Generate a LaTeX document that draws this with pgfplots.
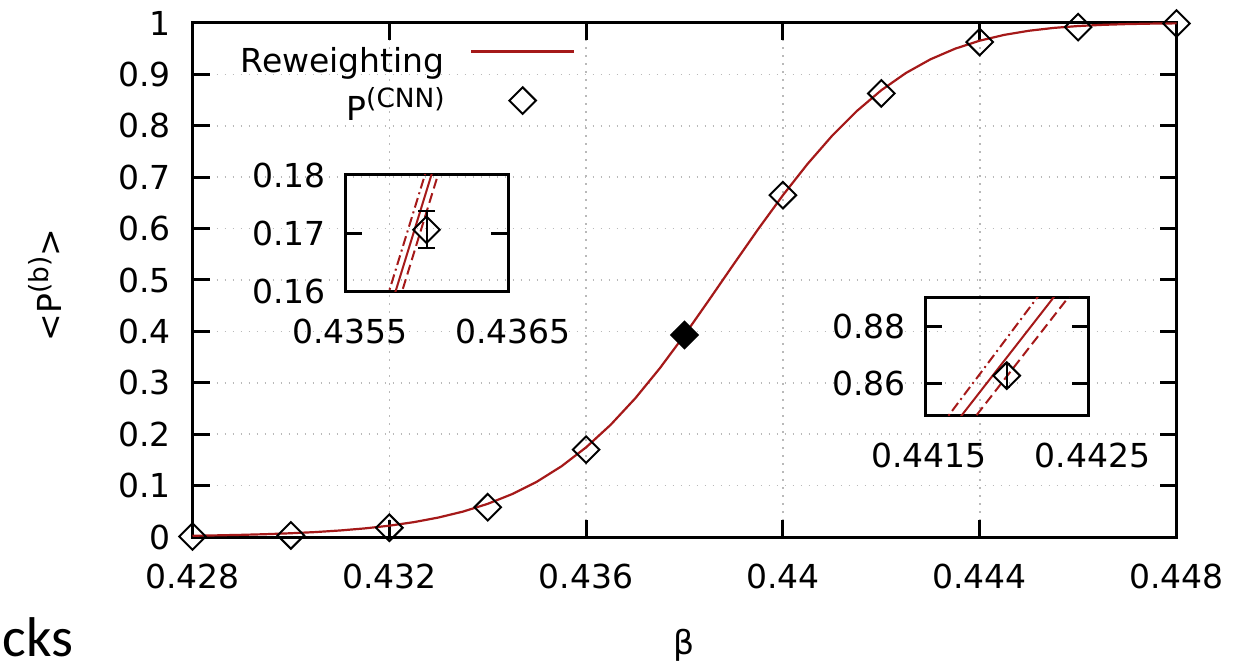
\documentclass[border=0pt]{standalone}
\usepackage{fontspec}
\setmainfont{DejaVu Sans}
\newfontfamily\slidefont{Carlito}
\usepackage{pgfplots}
\pgfplotsset{compat=1.18}
\definecolor{DarkRed}{RGB}{165,25,25}
\newcommand\chartfont{\fontsize{16.5bp}{19.8bp}\selectfont}
\newcommand\sups[1]{\raisebox{0.42em}{\fontsize{13.2bp}{15bp}\selectfont #1}}

\pgfplotsset{
  gp/.style={
    scale only axis,
    axis line style={line width=1.5bp},
    tick style={line width=1.5bp, black},
    major tick length=8.5bp,
    tick align=inside,
    font=\chartfont,
    tick label style={font=\chartfont},
    /pgf/number format/assume math mode=true,
    /pgf/number format/precision=4,
    scaled ticks=false,
    xticklabel style={yshift=-10bp},
    yticklabel style={xshift=-7.4bp},
  },
  band/.style={DarkRed, line width=1bp},
  linelegend/.style={legend image code/.code={\draw[##1, line width=1.4bp] (0bp,5.85bp) -- (51.5bp,5.85bp);}},
  marklegend/.style={legend image code/.code={\draw[mark repeat=2,mark phase=2,##1]
    plot coordinates {(0bp,5.65bp)(25.75bp,5.65bp)(51.5bp,5.65bp)};}},
}

\begin{document}
\begin{tikzpicture}
\useasboundingbox (0,0) rectangle (628bp,330.5bp);

% main plot
\begin{axis}[gp,
  at={(96.25bp,62bp)}, anchor=south west,
  width=492bp, height=257bp,
  xmin=0.428, xmax=0.448, ymin=0, ymax=1,
  xtick={0.428,0.432,0.436,0.44,0.444,0.448},
  ytick={0,0.1,0.2,0.3,0.4,0.5,0.6,0.7,0.8,0.9,1},
  grid=major,
  grid style={line width=0.8bp, gray!55, dash pattern=on 0.8bp off 3.2bp},
  clip=false,
  xlabel={β}, ylabel={<P\sups{(b)}>},
  xlabel style={at={(axis description cs:0.5,-0.21)}, anchor=center},
  ylabel style={at={(axis description cs:-0.15,0.49)}, anchor=center},
  legend style={draw=none, fill=none, inner sep=0pt,
    at={(axis description cs:0.3897,0.9558)}, anchor=north east,
    column sep=12.5bp, row sep=3.6bp,
    nodes={inner sep=0pt, text height=13bp, text depth=4bp}},
  legend cell align=right,
  legend plot pos=right,
]
\addplot[DarkRed, line width=1.1bp, linelegend]
  coordinates {
  (0.4280,0.0024)(0.4285,0.0032)(0.4290,0.0042)(0.4295,0.0055)(0.4300,0.0073)
  (0.4305,0.0096)(0.4310,0.0127)(0.4315,0.0167)(0.4320,0.0220)(0.4325,0.0289)
  (0.4330,0.0379)(0.4335,0.0495)(0.4340,0.0645)(0.4345,0.0836)(0.4350,0.1076)
  (0.4355,0.1376)(0.4360,0.1744)(0.4365,0.2184)(0.4370,0.2699)(0.4375,0.3285)
  (0.4380,0.3929)(0.4385,0.4613)(0.4390,0.5308)(0.4395,0.5993)(0.4400,0.6649)
  (0.4405,0.7257)(0.4410,0.7806)(0.4415,0.8285)(0.4420,0.8692)(0.4425,0.9027)
  (0.4430,0.9294)(0.4435,0.9500)(0.4440,0.9656)(0.4445,0.9769)(0.4450,0.9849)
  (0.4455,0.9904)(0.4460,0.9941)(0.4465,0.9964)(0.4470,0.9979)(0.4475,0.9988)
  (0.4480,0.9993)
};
\addlegendentry{Reweighting}
\addplot[only marks, black, mark=square, mark size=4.7bp,
  mark options={rotate=45, line width=1bp}, marklegend]
  coordinates {
  (0.428,0.001)(0.430,0.003)(0.432,0.018)(0.434,0.058)(0.436,0.170)
  (0.440,0.665)(0.442,0.863)(0.444,0.963)(0.446,0.992)(0.448,0.999)
};
\addlegendentry{P\sups{(CNN)}}
\addplot[only marks, black, mark=square*, mark size=4.7bp,
  mark options={rotate=45, line width=1bp, fill=black}, forget plot]
  coordinates {(0.438,0.393)};
\end{axis}

% inset near beta = 0.436
\begin{axis}[gp,
  at={(172.5bp,184.75bp)}, anchor=south west,
  width=81.5bp, height=58.25bp,
  xmin=0.4355, xmax=0.4365, ymin=0.16, ymax=0.18,
  xtick={0.4355,0.4365}, ytick={0.16,0.17,0.18},
  yticklabel style={xshift=1.4bp},
  xticklabel style={xshift=2.5bp},
]
\addplot[band, dash pattern=on 5bp off 2bp on 1bp off 2bp]
  coordinates {(0.435748,0.158)(0.436012,0.182)};
\addplot[band] coordinates {(0.435788,0.158)(0.436052,0.182)};
\addplot[band, dash pattern=on 5bp off 2.5bp]
  coordinates {(0.435828,0.158)(0.436092,0.182)};
\addplot[only marks, black, mark=square, mark size=4.7bp,
  mark options={rotate=45, line width=1bp},
  error bars/.cd, y dir=both, y explicit,
  error bar style={line width=1bp},
  error mark options={rotate=90, mark size=4.2bp, line width=1bp}]
  coordinates {(0.43600,0.1706) +- (0,0.0032)};
\end{axis}

% inset near beta = 0.442
\begin{axis}[gp,
  at={(462.5bp,122.75bp)}, anchor=south west,
  width=81.75bp, height=58.75bp,
  xmin=0.4415, xmax=0.4425, ymin=0.849, ymax=0.890,
  xtick={0.4415,0.4425}, ytick={0.86,0.88},
  yticklabel style={xshift=1.4bp},
  xticklabel style={xshift=2bp},
]
\addplot[band, dash pattern=on 5bp off 2bp on 1bp off 2bp]
  coordinates {(0.441592,0.845)(0.442250,0.895)};
\addplot[band] coordinates {(0.441669,0.845)(0.442352,0.895)};
\addplot[band, dash pattern=on 5bp off 2.5bp]
  coordinates {(0.441759,0.845)(0.442442,0.895)};
\addplot[only marks, black, mark=square, mark size=4.7bp,
  mark options={rotate=45, line width=1bp},
  error bars/.cd, y dir=both, y explicit,
  error bar style={line width=1bp},
  error mark options={rotate=90, mark size=1.5bp, line width=1bp}]
  coordinates {(0.44200,0.8629) +- (0,0.004)};
\end{axis}

\node[anchor=base west, inner sep=0pt, font=\slidefont\fontsize{28bp}{32bp}\selectfont]
  at (1bp,2.5bp) {cks};
\end{tikzpicture}
\end{document}
